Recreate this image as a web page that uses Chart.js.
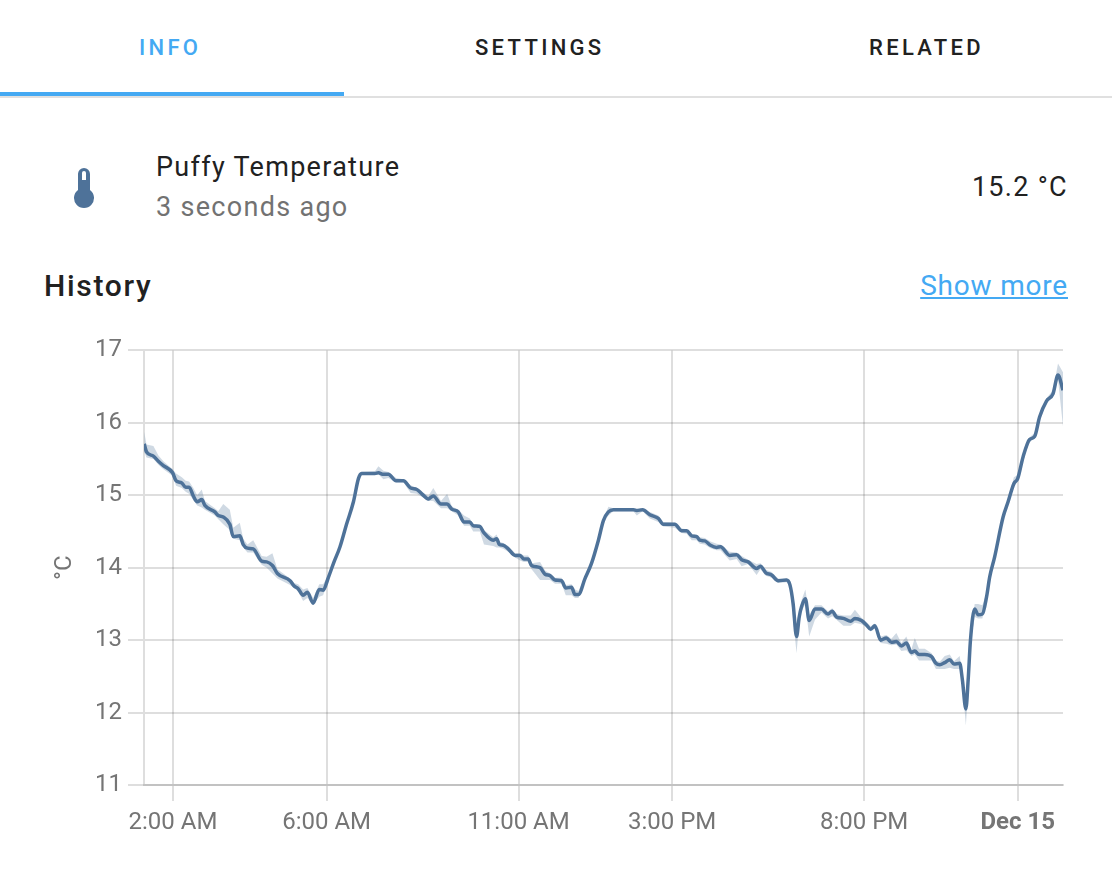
<!DOCTYPE html>
<html>
<head>
<meta charset="utf-8">
<style>
  html, body { margin: 0; padding: 0; background: #fff; }
  body { width: 1112px; height: 872px; position: relative; overflow: hidden; font-family: Roboto, sans-serif; color: #212121; }
  .txt { position: absolute; white-space: nowrap; line-height: 1; }
  .tab { font-size: 22px; font-weight: 500; letter-spacing: 3.3px; top: 37px; }
  #chartWrap { position: absolute; left: 0; top: 330px; width: 1112px; height: 530px; }
</style>
</head>
<body>
<div class="txt tab" style="left:139px;color:#44a9f3">INFO</div>
<div class="txt tab" style="left:475px">SETTINGS</div>
<div class="txt tab" style="left:869px">RELATED</div>
<div style="position:absolute;left:0;top:96px;width:1112px;height:2px;background:#e0e0e0"></div>
<div style="position:absolute;left:0;top:92px;width:344px;height:4px;background:#44a9f3"></div>

<svg style="position:absolute;left:70px;top:164px" width="28" height="48" viewBox="0 0 28 48">
  <path fill="#4e7299" fill-rule="evenodd" d="M8 10a6 6 0 0 1 12 0v16a10 10 0 1 1-12 0zM12 16h4V9a2 2 0 0 0-4 0z"/>
</svg>

<div class="txt" style="left:156px;top:154px;font-size:27px;letter-spacing:1.3px">Puffy Temperature</div>
<div class="txt" style="left:156px;top:194px;font-size:27px;letter-spacing:1.3px;color:#727272">3 seconds ago</div>
<div class="txt" style="right:44px;top:174px;font-size:27px;letter-spacing:1.3px">15.2 °C</div>
<div class="txt" style="left:44px;top:271px;font-size:30px;font-weight:500;letter-spacing:1.7px">History</div>
<div class="txt" style="right:44px;top:272px;font-size:28px;letter-spacing:.8px;color:#44a9f3;text-decoration:underline">Show more</div>

<div id="chartWrap"><canvas id="historyChart" width="1112" height="530"></canvas></div>

<script src="https://cdn.jsdelivr.net/npm/chart.js@4"></script>
<script>
// hours since midnight Dec 14
const hours = [1.25,1.31,1.49,1.62,1.75,1.99,2.08,2.23,2.33,2.42,2.53,2.63,2.75,2.83,3.09,3.18,3.31,3.48,3.57,3.74,3.83,3.94,4.09,4.31,4.44,4.59,4.72,5.05,5.15,5.26,5.39,5.50,5.65,5.81,5.91,6.05,6.18,6.35,6.52,6.70,6.83,6.91,7.26,7.35,7.48,7.61,7.81,8.00,8.19,8.35,8.48,8.65,8.78,8.98,9.14,9.26,9.43,9.58,9.73,9.82,9.99,10.10,10.34,10.43,10.50,10.60,10.73,10.91,11.04,11.14,11.25,11.34,11.56,11.69,11.82,11.95,12.12,12.23,12.38,12.47,12.56,12.73,12.90,13.08,13.21,13.34,13.47,13.99,14.08,14.23,14.42,14.64,14.77,15.07,15.25,15.38,15.51,15.64,15.72,15.85,16.00,16.16,16.26,16.50,16.68,16.81,16.98,17.20,17.30,17.44,17.59,17.76,17.98,18.07,18.15,18.24,18.31,18.37,18.47,18.57,18.72,18.89,19.06,19.17,19.28,19.46,19.65,19.76,19.93,20.06,20.17,20.28,20.43,20.58,20.71,20.84,20.97,21.10,21.23,21.32,21.43,21.58,21.76,21.87,21.97,22.10,22.23,22.34,22.49,22.56,22.65,22.71,22.77,22.88,22.97,23.08,23.19,23.27,23.40,23.62,23.75,23.90,24.00,24.14,24.31,24.44,24.57,24.75,24.92,25.05,25.18];
const tempMean = [15.71,15.60,15.54,15.47,15.41,15.31,15.20,15.17,15.11,15.11,14.99,14.91,14.94,14.86,14.77,14.72,14.70,14.60,14.43,14.44,14.32,14.27,14.26,14.09,14.08,14.03,13.92,13.82,13.75,13.71,13.62,13.66,13.51,13.70,13.69,13.87,14.06,14.29,14.60,14.91,15.23,15.30,15.30,15.31,15.29,15.29,15.20,15.20,15.10,15.08,15.02,14.95,14.99,14.88,14.88,14.81,14.77,14.63,14.63,14.58,14.57,14.48,14.38,14.40,14.32,14.31,14.26,14.17,14.17,14.12,14.12,14.03,14.00,13.91,13.89,13.83,13.82,13.72,13.73,13.63,13.63,13.85,14.06,14.38,14.65,14.77,14.80,14.80,14.79,14.80,14.73,14.68,14.60,14.60,14.51,14.51,14.44,14.43,14.38,14.37,14.31,14.28,14.29,14.17,14.18,14.11,14.08,13.99,14.02,13.93,13.90,13.82,13.83,13.76,13.51,13.05,13.32,13.46,13.57,13.27,13.43,13.43,13.36,13.40,13.32,13.30,13.26,13.30,13.27,13.21,13.15,13.20,13.00,13.03,12.97,12.98,12.92,12.96,12.83,12.85,12.80,12.80,12.77,12.68,12.66,12.69,12.73,12.67,12.68,12.45,12.05,12.45,13.00,13.43,13.35,13.36,13.60,13.87,14.15,14.70,14.91,15.16,15.23,15.53,15.77,15.81,16.08,16.30,16.40,16.66,16.45];
const tempMin = [15.60,15.52,15.50,15.42,15.36,15.27,15.13,15.10,15.05,15.02,14.93,14.86,14.83,14.80,14.72,14.67,14.60,14.52,14.40,14.38,14.28,14.21,14.21,14.04,14.00,13.92,13.85,13.76,13.72,13.67,13.54,13.58,13.49,13.60,13.62,13.84,14.03,14.26,14.57,14.88,15.20,15.28,15.28,15.29,15.22,15.24,15.18,15.18,15.03,15.02,14.98,14.92,14.92,14.82,14.82,14.78,14.72,14.58,14.58,14.50,14.50,14.32,14.30,14.28,14.28,14.26,14.22,14.14,14.10,14.08,14.08,13.98,13.83,13.83,13.83,13.78,13.78,13.62,13.62,13.58,13.58,13.83,14.04,14.36,14.62,14.72,14.78,14.78,14.72,14.78,14.68,14.63,14.57,14.55,14.48,14.47,14.38,14.38,14.33,14.32,14.27,14.24,14.24,14.10,14.12,14.02,14.05,13.90,13.98,13.89,13.86,13.79,13.80,13.73,13.30,12.82,13.25,13.40,13.50,13.05,13.28,13.38,13.30,13.33,13.28,13.20,13.20,13.24,13.22,13.18,13.12,13.16,12.96,12.95,12.93,12.94,12.85,12.86,12.78,12.80,12.72,12.72,12.72,12.60,12.60,12.60,12.62,12.60,12.60,12.40,11.82,12.30,12.95,13.32,13.30,13.30,13.57,13.84,14.12,14.67,14.88,15.12,15.19,15.50,15.74,15.78,16.05,16.27,16.37,16.60,15.95];
const tempMax = [15.88,15.70,15.68,15.55,15.47,15.36,15.30,15.25,15.20,15.19,15.10,15.00,15.08,14.92,14.82,14.78,14.88,14.80,14.55,14.62,14.40,14.32,14.38,14.16,14.15,14.20,13.98,13.85,13.79,13.77,13.70,13.72,13.58,13.77,13.77,13.90,14.09,14.32,14.63,14.94,15.26,15.32,15.33,15.40,15.34,15.32,15.24,15.22,15.14,15.10,15.05,14.99,15.10,14.92,15.02,14.85,14.80,14.72,14.68,14.60,14.60,14.52,14.42,14.46,14.36,14.34,14.30,14.20,14.20,14.17,14.17,14.06,14.08,13.96,13.92,13.86,13.86,13.76,13.77,13.70,13.68,13.88,14.08,14.40,14.68,14.84,14.82,14.82,14.81,14.82,14.77,14.72,14.63,14.62,14.54,14.53,14.47,14.46,14.42,14.41,14.36,14.33,14.32,14.22,14.21,14.16,14.11,14.05,14.06,13.97,13.94,13.85,13.85,13.80,13.55,13.10,13.40,13.55,13.70,13.35,13.48,13.48,13.40,13.44,13.36,13.34,13.34,13.42,13.31,13.25,13.19,13.23,13.05,13.07,13.02,13.10,12.96,13.05,12.87,13.03,12.88,12.88,12.82,12.72,12.70,12.78,12.80,12.71,12.78,12.50,12.10,12.50,13.05,13.50,13.50,13.48,13.65,13.92,14.20,14.75,14.95,15.25,15.28,15.58,15.80,15.86,16.12,16.34,16.45,16.82,16.70];

const xTicks = [2, 6, 11, 15, 20, 24];
const xLabels = ['2:00 AM', '6:00 AM', '11:00 AM', '3:00 PM', '8:00 PM', 'Dec 15'];

function toPoints(values) {
  return values.map((v, i) => ({ x: hours[i], y: v }));
}

Chart.defaults.font.family = 'Roboto, sans-serif';
Chart.defaults.color = '#757575';

new Chart(document.getElementById('historyChart'), {
  type: 'line',
  data: {
    datasets: [
      {
        label: 'Puffy Temperature',
        data: toPoints(tempMean),
        borderColor: '#4e7299',
        borderWidth: 3.5,
        cubicInterpolationMode: 'monotone',
        pointRadius: 0,
        fill: false
      },
      {
        label: 'max',
        data: toPoints(tempMax),
        borderWidth: 0,
        pointRadius: 0,
        backgroundColor: 'rgba(78, 114, 153, 0.27)',
        fill: '+1'
      },
      {
        label: 'min',
        data: toPoints(tempMin),
        borderWidth: 0,
        pointRadius: 0,
        fill: false
      }
    ]
  },
  options: {
    responsive: false,
    animation: false,
    layout: { padding: { left: 48, right: 49, top: 20, bottom: 0 } },
    plugins: { legend: { display: false }, tooltip: { enabled: false } },
    scales: {
      x: {
        type: 'linear',
        min: 1.245,
        max: 25.18,
        afterBuildTicks: (scale) => { scale.ticks = xTicks.map(v => ({ value: v })); },
        afterFit: (scale) => { scale.height = 75; },
        grid: { color: 'rgba(0,0,0,0.13)', lineWidth: 2, tickLength: 16 },
        border: { color: 'rgba(0,0,0,0.13)', width: 2 },
        ticks: {
          autoSkip: false,
          maxRotation: 0,
          padding: 8,
          font: (ctx) => ({ size: 24, weight: ctx.tick && ctx.tick.value === 24 ? 'bold' : 'normal' }),
          callback: (value) => xLabels[xTicks.indexOf(value)]
        }
      },
      y: {
        min: 11,
        max: 17,
        afterFit: (scale) => { scale.width = 96; },
        grid: { color: 'rgba(0,0,0,0.13)', lineWidth: 2, tickLength: 16 },
        border: { color: 'rgba(0,0,0,0.13)', width: 2 },
        ticks: { stepSize: 1, padding: 6, font: { size: 24 } },
        title: { display: true, text: '°C', font: { size: 24 }, padding: { top: 3, bottom: 0 } }
      }
    }
  }
});
</script>
</body>
</html>
